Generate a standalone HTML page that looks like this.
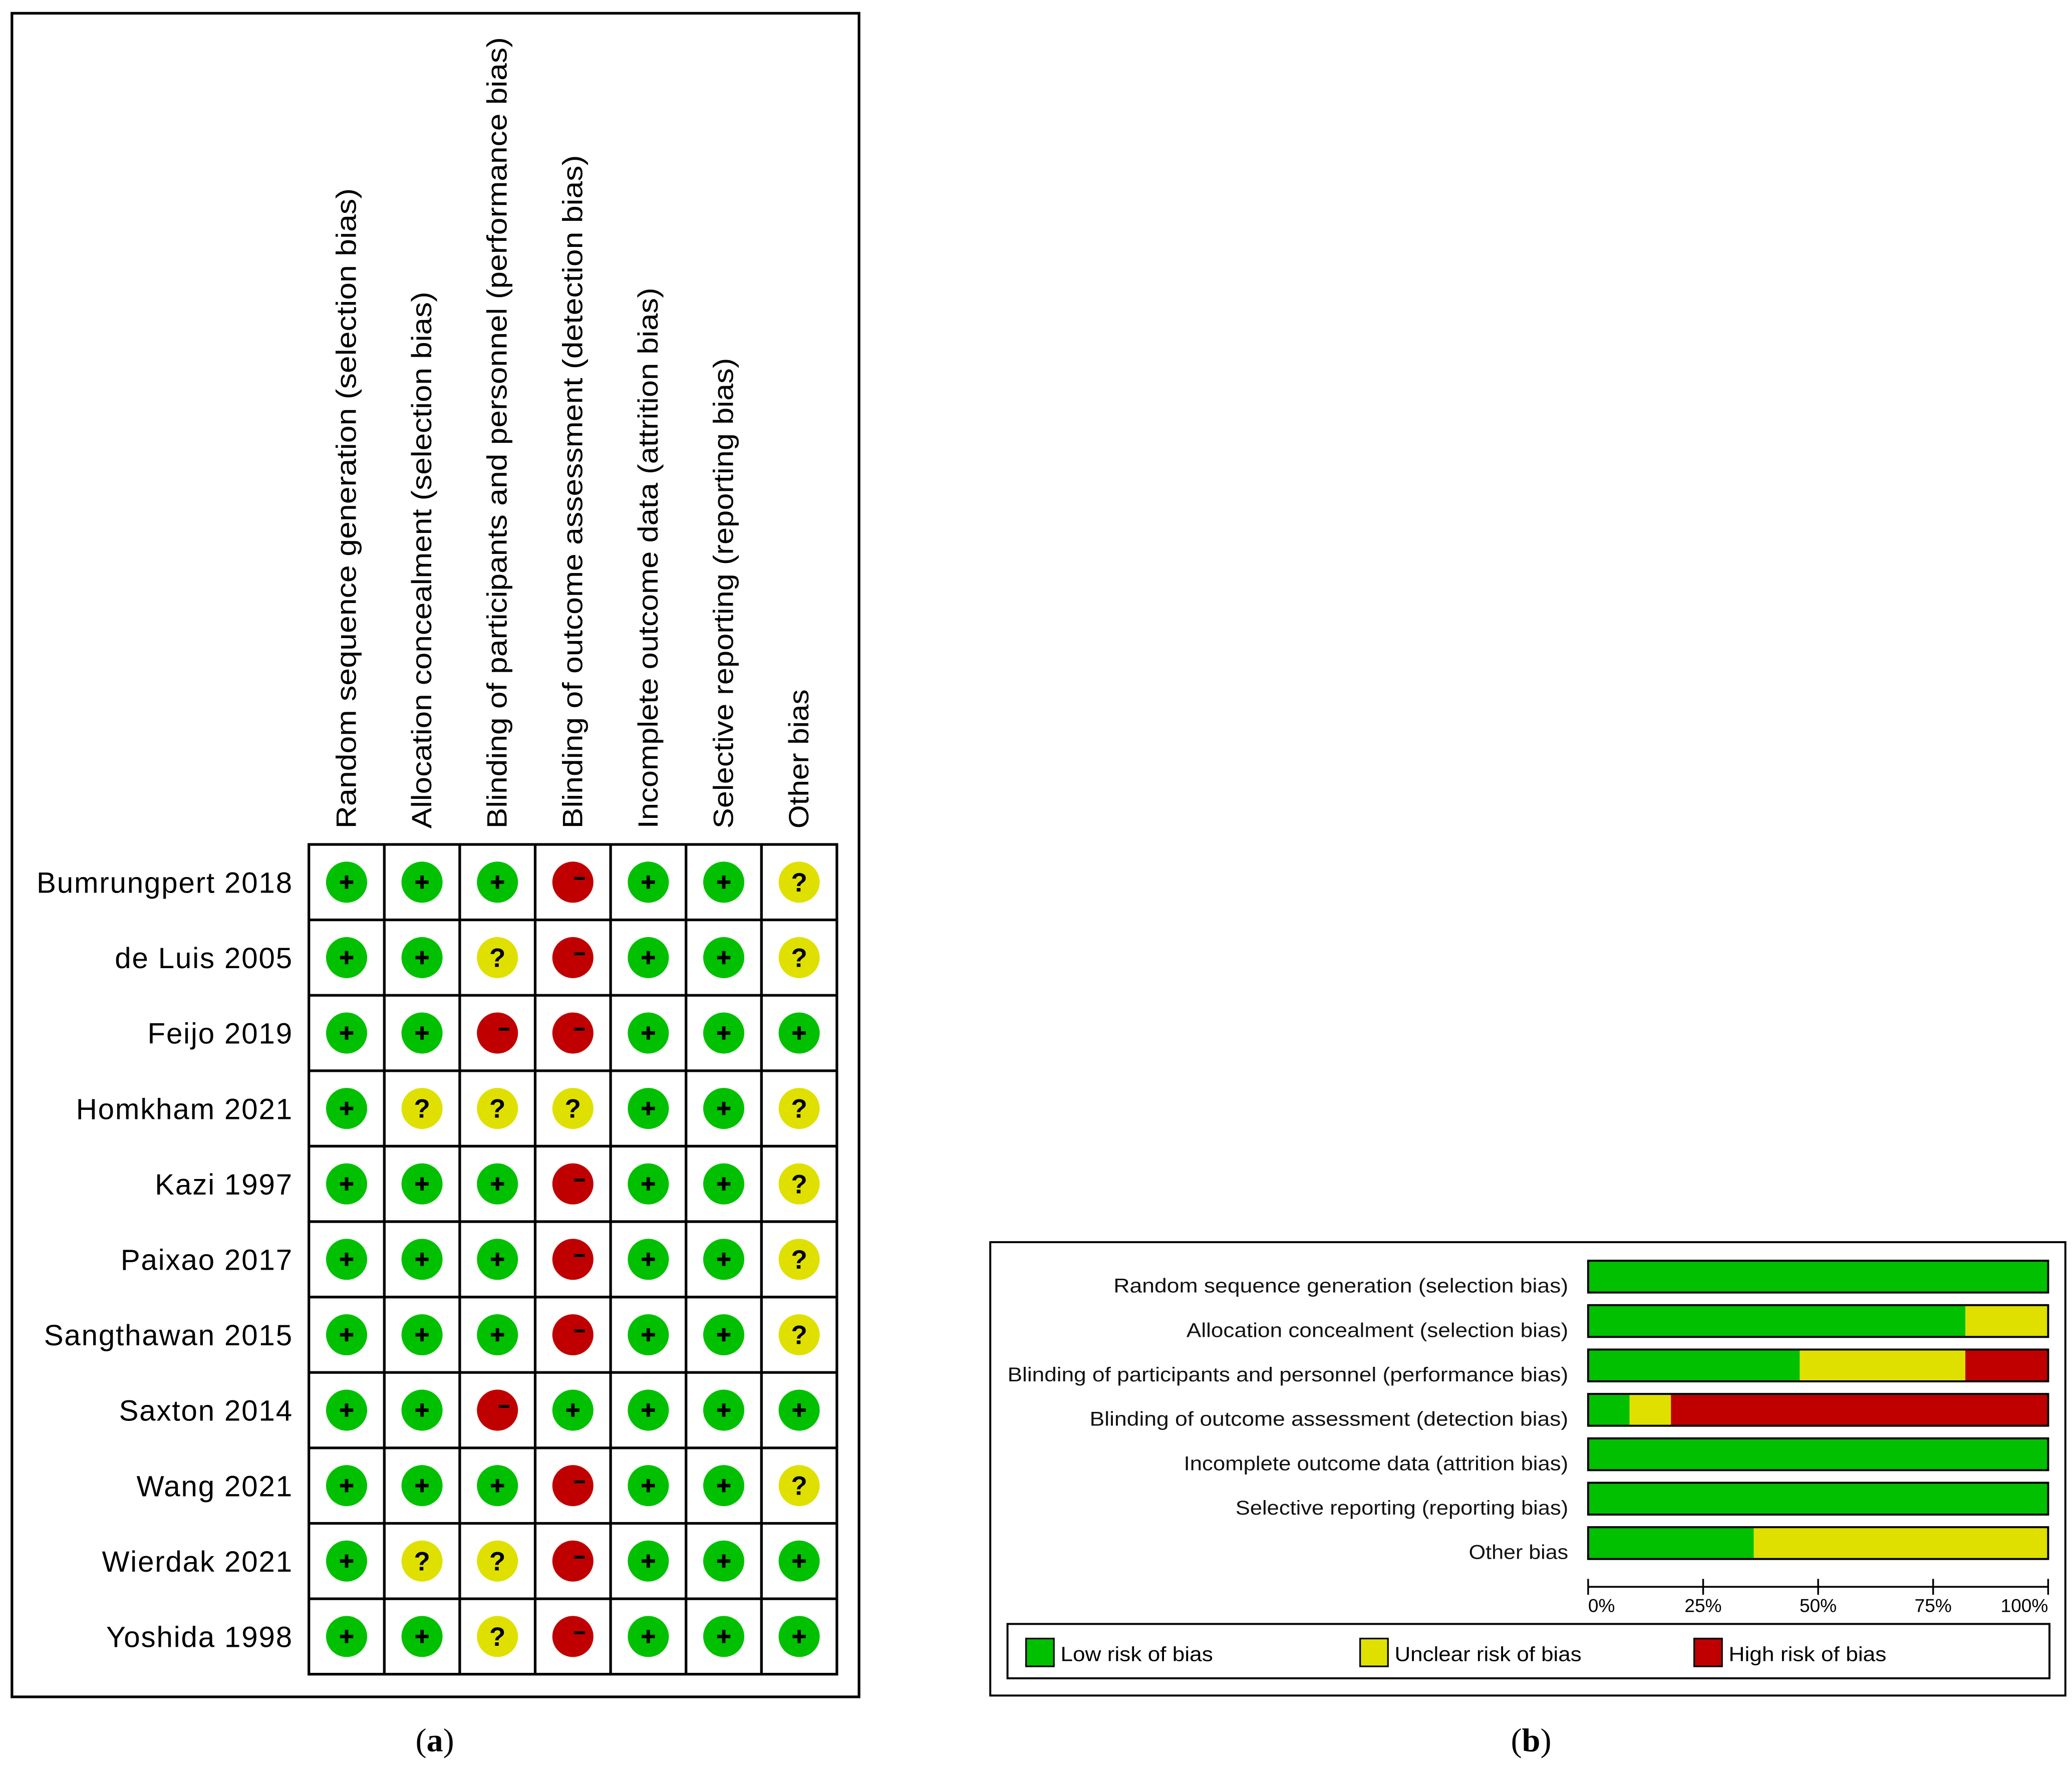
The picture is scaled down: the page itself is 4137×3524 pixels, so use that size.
<!DOCTYPE html>
<html><head><meta charset="utf-8"><style>
html,body{margin:0;padding:0;background:#fff;}
svg{display:block;}
text{font-family:"Liberation Sans",Arial,sans-serif;}
</style></head><body>
<svg id="fig" width="4137" height="3524" viewBox="0 0 1563 1331.4" preserveAspectRatio="none" xmlns="http://www.w3.org/2000/svg">
<rect x="9" y="10" width="639" height="1270" fill="#fff" stroke="#000" stroke-width="2"/>
<g id="gridA"></g>
<text x="328" y="1321" font-size="25" text-anchor="middle" style="font-family:'Liberation Serif',serif">(<tspan font-weight="bold">a</tspan>)</text>
<rect x="747" y="937" width="811" height="342" fill="#fff" stroke="#000" stroke-width="1.5"/>
<g id="barsB"></g>
<rect x="760" y="1225" width="786" height="41" fill="none" stroke="#000" stroke-width="1.5"/>
<text x="1155" y="1321" font-size="25" text-anchor="middle" style="font-family:'Liberation Serif',serif">(<tspan font-weight="bold">b</tspan>)</text>
</svg>
<script>
const domains = ["Random sequence generation (selection bias)","Allocation concealment (selection bias)","Blinding of participants and personnel (performance bias)","Blinding of outcome assessment (detection bias)","Incomplete outcome data (attrition bias)","Selective reporting (reporting bias)","Other bias"];
const studies = ["Bumrungpert 2018","de Luis 2005","Feijo 2019","Homkham 2021","Kazi 1997","Paixao 2017","Sangthawan 2015","Saxton 2014","Wang 2021","Wierdak 2021","Yoshida 1998"];
const judgements = [
"+++-++?",
"++?-++?",
"++--+++",
"+???++?",
"+++-++?",
"+++-++?",
"+++-++?",
"++-++++",
"+++-++?",
"+??-+++",
"++?-+++"];
const lowPct = [100, 82, 46, 9, 100, 100, 36];
const unclearPct = [0, 18, 36, 9, 0, 0, 64];
const highPct = [0, 0, 18, 82, 0, 0, 0];
const axisTicks = ["0%","25%","50%","75%","100%"];
const legendLabels = ["Low risk of bias","Unclear risk of bias","High risk of bias"];

const headerLen=[483,405,597,508,408,355,105];
const labelLen=[343,288,423,361,290,251,75];
const legendLen=[115,141,119];

const NS="http://www.w3.org/2000/svg";
const COL={"+":"#00c000","?":"#e0e000","-":"#c00000"};
function mk(tag,attrs,parent){const e=document.createElementNS(NS,tag);for(const k in attrs)e.setAttribute(k,attrs[k]);parent.appendChild(e);return e;}

// panel a
const gA=document.getElementById("gridA");
const gx0=233,gy0=637,cw=56.9,rh=56.9;
const colX=i=>gx0+cw*i, rowY=j=>gy0+rh*j;
domains.forEach((d,i)=>{
  const cx=colX(i)+cw/2+7;
  const t=mk("text",{x:cx,y:625,"font-size":21,textLength:headerLen[i],lengthAdjust:"spacingAndGlyphs",transform:`rotate(-90 ${cx} 625)`},gA);
  t.textContent=d;
  
  
});
studies.forEach((s,j)=>{
  const t=mk("text",{x:221,y:rowY(j)+rh/2+8,"font-size":22,"text-anchor":"end","letter-spacing":"0.7"},gA);
  t.textContent=s;
  
  
});
mk("rect",{x:gx0,y:gy0,width:cw*7,height:rh*11,fill:"#fff",stroke:"#000","stroke-width":2},gA);
for(let i=1;i<7;i++)mk("line",{x1:colX(i),x2:colX(i),y1:gy0,y2:rowY(11),stroke:"#000","stroke-width":2},gA);
for(let j=1;j<11;j++)mk("line",{x1:gx0,x2:colX(7),y1:rowY(j),y2:rowY(j),stroke:"#000","stroke-width":2},gA);
judgements.forEach((row,j)=>{
  [...row].forEach((v,i)=>{
    const cx=colX(i)+cw/2, cy=rowY(j)+rh/2;
    const c=mk("circle",{cx:cx,cy:cy,r:15.5,fill:COL[v]},gA);
    
    
    if(v==="+"){
      mk("rect",{x:cx-5,y:cy-1.3,width:10,height:2.6,fill:"#000"},gA);
      mk("rect",{x:cx-1.3,y:cy-5,width:2.6,height:10,fill:"#000"},gA);
    }else if(v==="-"){
      mk("rect",{x:cx+1,y:cy-4,width:8,height:2.2,fill:"#000"},gA);
    }else{
      const q=mk("text",{x:cx,y:cy+7,"font-size":20,"font-weight":"bold","text-anchor":"middle"},gA);
      q.textContent="?";
    }
  });
});

// panel b
const gB=document.getElementById("barsB");
const bx0=1198,bx1=1545;
const xs=p=>bx0+(bx1-bx0)*p/100;
const rowC=i=>963+33.5*i;
domains.forEach((d,i)=>{
  const y=rowC(i)-12;
  const t=mk("text",{x:1183,y:rowC(i)+12,"font-size":15,"text-anchor":"end",fill:"#111",textLength:labelLen[i],lengthAdjust:"spacingAndGlyphs"},gB);
  t.textContent=d;
  
  
  let acc=0;
  const tot=lowPct[i]+unclearPct[i]+highPct[i];
  [[lowPct[i],"#00c000","bar-low"],[unclearPct[i],"#e0e000","bar-unclear"],[highPct[i],"#c00000","bar-high"]].forEach(([v,c,n])=>{
    const vv=v*100/tot;
    if(vv>0){
      const r=mk("rect",{x:xs(acc),y:y,width:xs(acc+vv)-xs(acc),height:24,fill:c},gB);
      
      
    }
    acc+=vv;
  });
  mk("rect",{x:bx0,y:y,width:bx1-bx0,height:24,fill:"none",stroke:"#000","stroke-width":1.5},gB);
});
mk("line",{x1:bx0,x2:bx1,y1:1197,y2:1197,stroke:"#000","stroke-width":1.3},gB);
axisTicks.forEach((tk,k)=>{
  const x=xs(k*25);
  mk("line",{x1:x,x2:x,y1:1191,y2:1203,stroke:"#000","stroke-width":1.3},gB);
  const anchor=k===0?"start":(k===4?"end":"middle");
  const t=mk("text",{x:x,y:1216,"font-size":14,"text-anchor":anchor},gB);
  t.textContent=tk;
  
  
});
const legCol=["#00c000","#e0e000","#c00000"];
legendLabels.forEach((l,k)=>{
  const x=774+252*k;
  const r=mk("rect",{x:x,y:1236,width:21,height:21,fill:legCol[k],stroke:"#000","stroke-width":1.2},gB);
  
  
  const t=mk("text",{x:x+26,y:1253,"font-size":15.5,textLength:legendLen[k],lengthAdjust:"spacingAndGlyphs"},gB);
  t.textContent=l;
  
  
});
</script>
</body></html>
